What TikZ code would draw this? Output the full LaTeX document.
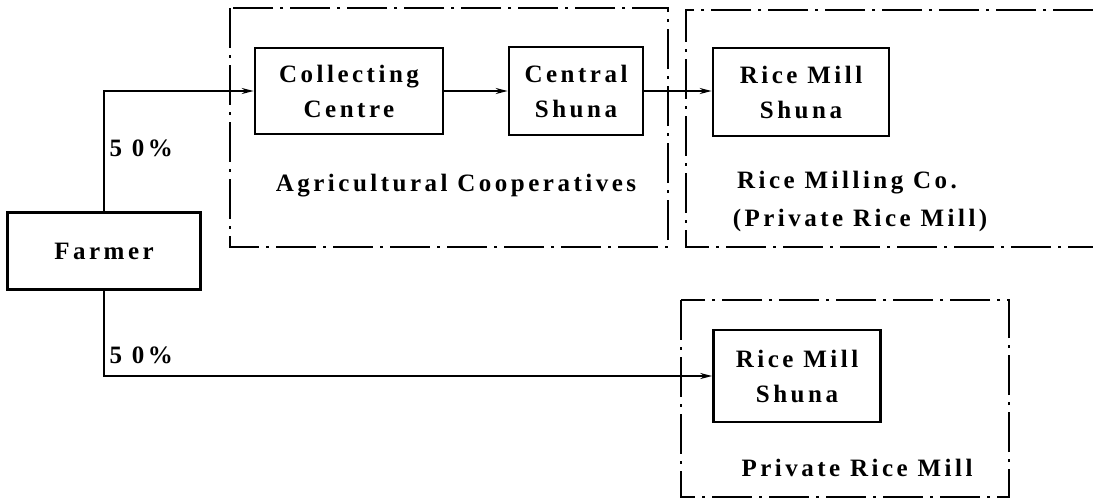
\documentclass[tikz,border=0pt]{standalone}
\usepackage{fontspec}
\setmainfont{Liberation Serif}[LetterSpace=14]
\usetikzlibrary{arrows.meta}
\begin{document}
\begin{tikzpicture}[x=1pt,y=-1pt,
  every node/.style={font=\fontsize{25}{35}\selectfont\bfseries},
  unit/.style={draw,line width=2.6pt,align=center,inner sep=0pt},
  group/.style={line width=2.6pt,dash pattern=on 40pt off 7pt on 3pt off 7pt},
  flow/.style={line width=1.4pt,-{Stealth[length=12pt,width=6pt]}},
  caption/.style={anchor=center}]
\useasboundingbox (0,0) rectangle (1093,501);

% organisational boundaries
\draw[group] (230,8) rectangle (668,247);
\draw[group] (1093,10) -- (686,10) -- (686,247) -- (1093,247);
\draw[group] (681,300) rectangle (1009,497);

% processing units
\node[unit,minimum width=188pt,minimum height=86pt] (coll) at (349,91) {Collecting\\Centre};
\node[unit,minimum width=134pt,minimum height=88pt] (cent) at (576,91) {Central\\Shuna};
\node[unit,minimum width=176pt,minimum height=88pt] (rm1) at (801,92) {Rice Mill\\Shuna};
\node[unit,minimum width=167pt,minimum height=92pt] (rm2) at (797,376) {Rice Mill\\Shuna};
\node[unit,minimum width=193pt,minimum height=77pt] (farm) at (104,251) {Farmer};

% group captions
\node[caption] (agc) at (456,186) {Agricultural Cooperatives};
\node[caption] (rmc) at (847,183) {Rice Milling Co.};
\node[caption] (rmp) at (860,220) {(Private Rice Mill)};
\node[caption] (prm) at (857,468) {Private Rice Mill};

% product flows
\draw[flow] (farm.north) |- (coll.west);
\draw[flow] (coll.east) -- (cent.west);
\draw[flow] (cent.east) -- (cent.east -| rm1.west);
\draw[flow] (farm.south) |- (rm2.west);

% shares
\node[anchor=west] (s1) at (106,148) {5 0\%};
\node[anchor=west] (s2) at (106,355) {5 0\%};
\end{tikzpicture}
\end{document}
